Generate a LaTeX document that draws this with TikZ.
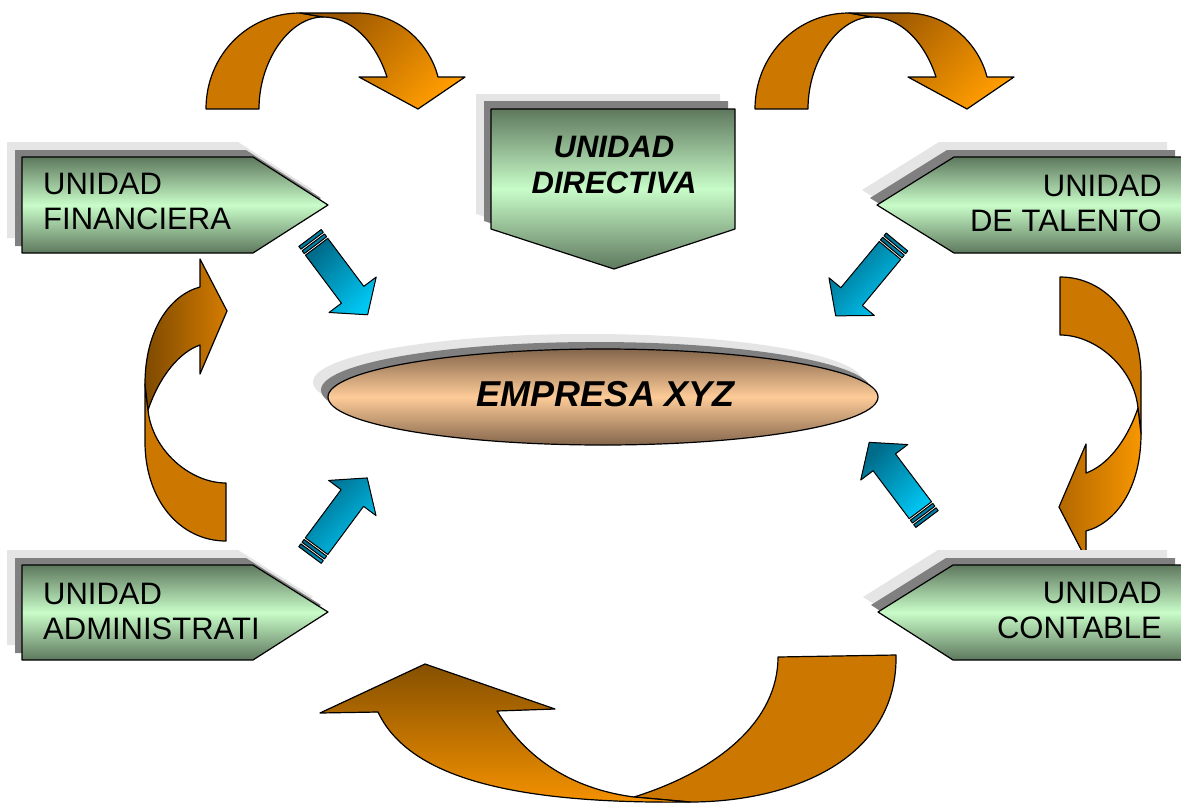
\documentclass[tikz,border=0pt]{standalone}
\usepackage{fontspec}
\setmainfont{Liberation Sans}
\definecolor{boxdark}{HTML}{5E785E}
\definecolor{boxlight}{HTML}{C8FCC8}
\definecolor{elldark}{HTML}{84664C}
\definecolor{elllight}{HTML}{FDCB98}
\definecolor{shdark}{HTML}{808080}
\definecolor{shlight}{HTML}{E5E5E5}
\definecolor{orflat}{HTML}{CC7700}
\definecolor{topdark}{HTML}{9A5600}
\definecolor{topbright}{HTML}{FF9C00}
\definecolor{lbdark}{HTML}{7F4A00}
\definecolor{lbbright}{HTML}{D47C00}
\definecolor{rbdark}{HTML}{B36800}
\definecolor{rbbright}{HTML}{F79600}
\definecolor{bdark}{HTML}{855000}
\definecolor{bbright}{HTML}{F59200}
\definecolor{bluedark}{HTML}{006B8A}
\definecolor{bluemid}{HTML}{0098C4}
\definecolor{bluebright}{HTML}{00C6F2}
\newcommand\bluearr[5]{%
\begin{scope}[shift={(#1,#2)}, rotate=#3]
 \filldraw[bout, top color=#4, bottom color=#5, shading angle=45] (11,-14) -- (71,-14) -- (71,-29.5) -- (96,0) -- (71,29.5) -- (71,14) -- (11,14) -- cycle;
 \filldraw[bout, top color=#4, bottom color=bluemid, shading angle=45] (5.5,-14) rectangle (9,14);
 \filldraw[bout, top color=#4, bottom color=bluemid, shading angle=45] (0,-14) rectangle (3.5,14);
\end{scope}}
\newcommand\toparr{%
 \filldraw[outl, fill=orflat] (206,109) .. controls (206,55) and (248,13) .. (300,13) -- (323,17) .. controls (290,17) and (259,60) .. (259,109) -- cycle;
 \filldraw[outl, top color=topdark, bottom color=topbright, shading angle=45] (300,13) -- (357,13) .. controls (400,13) and (430,45) .. (438,77) -- (465,77) -- (418,109) -- (359,77) -- (387,77) .. controls (375,40) and (350,17) .. (323,17) -- cycle;}
\begin{document}
\begin{tikzpicture}[x=1pt,y=-1pt,line join=round]
\tikzset{
 outl/.style={draw=black, line width=1.2pt},
 bout/.style={draw=black, line width=1pt},
 boxfill/.style={outl, top color=boxdark, bottom color=boxdark, middle color=boxlight},
 lbl/.style={font=\fontsize{31}{35}\selectfont, inner sep=0pt},
 lblb/.style={font=\fontsize{31}{36}\selectfont\bfseries\itshape, inner sep=0pt, align=center},
}
\fill[white] (0,0) rectangle (1181,803);
\useasboundingbox (0,0) rectangle (1181,803);

% ---------- curved arrows ----------
\toparr
\begin{scope}[shift={(549,0)}]\toparr\end{scope}

% left arrow
\filldraw[outl, fill=orflat] (226,541) .. controls (180,541) and (145,500) .. (145,442) -- (145,384) -- (148,410) .. controls (152,450) and (190,483) .. (226,483) -- cycle;
\filldraw[outl, left color=lbdark, right color=lbbright] (145,384) .. controls (145,330) and (170,295) .. (200,287) -- (200,259) -- (227,311) -- (200,374) -- (200,345) .. controls (180,352) and (160,375) .. (148,410) -- cycle;

% right arrow
\filldraw[outl, fill=orflat] (1060,277) .. controls (1106,277) and (1141,318) .. (1141,376) -- (1141,434) -- (1138,408) .. controls (1134,368) and (1096,335) .. (1060,335) -- cycle;
\filldraw[outl, left color=rbdark, right color=rbbright] (1141,434) .. controls (1141,488) and (1116,523) .. (1086,531) -- (1086,559) -- (1059,507) -- (1086,444) -- (1086,473) .. controls (1106,466) and (1126,443) .. (1138,408) -- cycle;

% bottom arrow
\filldraw[outl, fill=orflat] (634,797) .. controls (720,770) and (778,720) .. (778,657) -- (896,655) .. controls (898,760) and (790,802) .. (690,802) -- cycle;
\filldraw[outl, top color=bdark, bottom color=bbright] (378,712) .. controls (410,780) and (520,804) .. (690,802) -- (634,797) .. controls (580,790) and (530,765) .. (497,711) -- (555,709) -- (425,664) -- (320,713) -- cycle;

% ---------- boxes ----------
% Financiera
\fill[shlight, shift={(-15,-15)}] (22,157) -- (253,157) -- (328,205) -- (253,253) -- (22,253) -- cycle;
\fill[shdark, shift={(-7,-7)}] (22,157) -- (253,157) -- (328,205) -- (253,253) -- (22,253) -- cycle;
\path[boxfill] (22,157) -- (253,157) -- (328,205) -- (253,253) -- (22,253) -- cycle;
\node[lbl, anchor=west, align=left] (fin) at (43,201.5) {UNIDAD\\FINANCIERA};

% Administrati
\fill[shlight, shift={(-15,-15)}] (22,565) -- (253,565) -- (328,612) -- (253,660) -- (22,660) -- cycle;
\fill[shdark, shift={(-7,-7)}] (22,565) -- (253,565) -- (328,612) -- (253,660) -- (22,660) -- cycle;
\path[boxfill] (22,565) -- (253,565) -- (328,612) -- (253,660) -- (22,660) -- cycle;
\node[lbl, anchor=west, align=left] (adm) at (43,611) {UNIDAD\\ADMINISTRATI};

% Talento
\fill[shlight, shift={(-15,-15)}] (1182,157) -- (954,157) -- (877,205) -- (954,253) -- (1182,253) -- cycle;
\fill[shdark, shift={(-7,-7)}] (1182,157) -- (954,157) -- (877,205) -- (954,253) -- (1182,253) -- cycle;
\path[boxfill] (1182,157) -- (954,157) -- (877,205) -- (954,253) -- (1182,253) -- cycle;
\node[lbl, anchor=east, align=right] (tal) at (1162,203) {UNIDAD\\DE TALENTO};

% Contable
\fill[shlight, shift={(-15,-15)}] (1182,565) -- (953,565) -- (878,612) -- (953,660) -- (1182,660) -- cycle;
\fill[shdark, shift={(-7,-7)}] (1182,565) -- (953,565) -- (878,612) -- (953,660) -- (1182,660) -- cycle;
\path[boxfill] (1182,565) -- (953,565) -- (878,612) -- (953,660) -- (1182,660) -- cycle;
\node[lbl, anchor=east, align=right] (con) at (1162,610) {UNIDAD\\CONTABLE};

% Directiva
\fill[shlight, shift={(-15,-15)}] (491,109) -- (735,109) -- (735,229) -- (614,269) -- (491,229) -- cycle;
\fill[shdark, shift={(-7,-8)}] (491,109) -- (735,109) -- (735,229) -- (614,269) -- (491,229) -- cycle;
\path[boxfill] (491,109) -- (735,109) -- (735,229) -- (614,269) -- (491,229) -- cycle;
\node[lblb] (dir) at (614,165) {UNIDAD\\DIRECTIVA};

% ---------- ellipse ----------
\fill[shlight] (588,382) ellipse [x radius=275pt, y radius=48pt];
\fill[shdark] (596,390) ellipse [x radius=275pt, y radius=48pt];
\path[outl, top color=elldark, bottom color=elldark, middle color=elllight] (603,397) ellipse [x radius=275pt, y radius=48pt];
\node[font=\fontsize{36}{40}\selectfont\bfseries\itshape, inner sep=0pt] (emp) at (606,394) {EMPRESA XYZ};

% ---------- blue arrows ----------
\bluearr{310}{238}{-53.1}{bluedark}{bluebright}
\bluearr{310}{555}{53.4}{bluedark}{bluebright}
\bluearr{897}{242}{-129.7}{bluedark}{bluebright}
\bluearr{927}{519}{127}{bluedark}{bluebright}
\end{tikzpicture}
\end{document}
